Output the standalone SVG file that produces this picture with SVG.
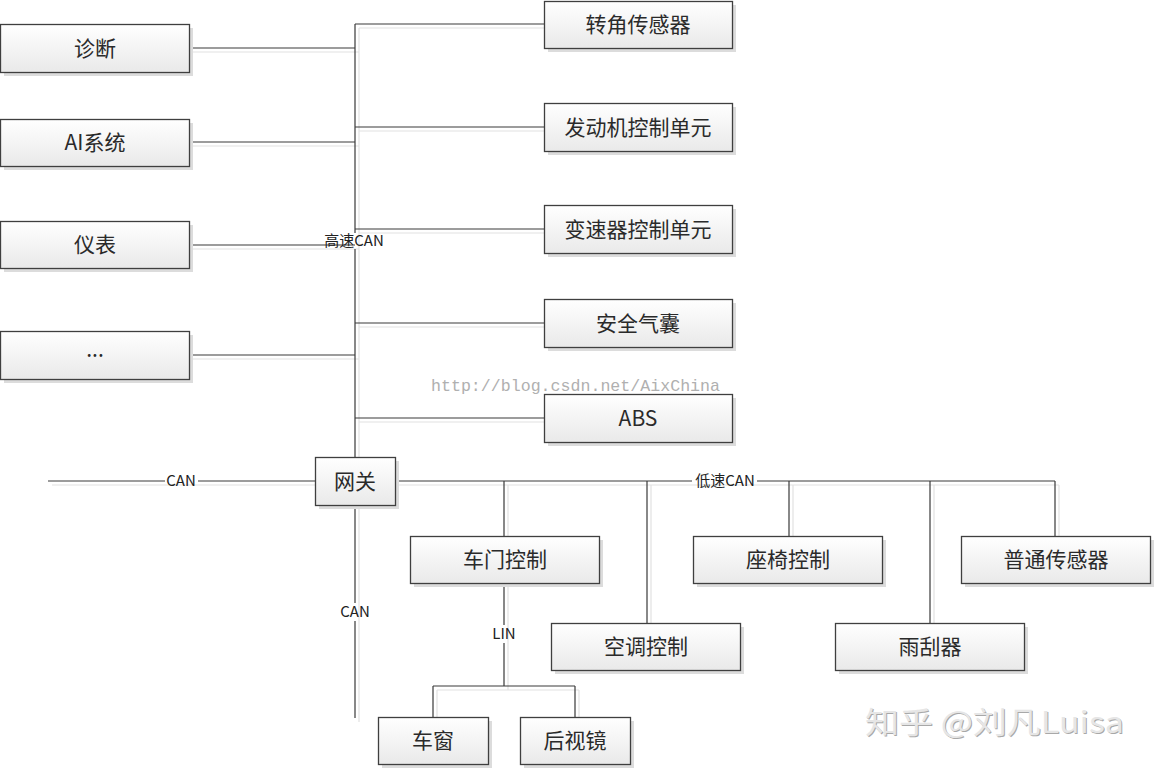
<svg xmlns="http://www.w3.org/2000/svg" width="1155" height="770" viewBox="0 0 1155 770">
<defs>
<linearGradient id="g" x1="0" y1="0" x2="0" y2="1">
<stop offset="0" stop-color="#ffffff"/>
<stop offset="1" stop-color="#e9e9e9"/>
</linearGradient>
</defs>
<style>
.ln{stroke:#3a3a3a;stroke-width:1.2;fill:none}
.sh{stroke:#e2e2e2;stroke-width:1.2;fill:none}
.bs{fill:#dcdcdc}
.bx{fill:url(#g);stroke:#3f3f3f;stroke-width:1.3}
.t{font-family:"Noto Sans CJK SC","Liberation Sans",sans-serif;font-size:21px;fill:#2a2a2a;text-anchor:middle}
.lb{font-family:"Noto Sans CJK SC","Liberation Sans",sans-serif;font-size:15px;fill:#222;text-anchor:middle}
</style>
<rect width="1155" height="770" fill="#fff"/>
<g id="connectors">
<g transform="translate(4,4)" class="sh">
<path d="M355 24V718M189 48H355M189 142H355M189 245H355M189 355H355M355 24H544M355 127H544M355 229H544M355 323H544M355 418H544M48 481H315M395 481H1055M504 481V536M647 481V623M789 481V536M930 481V623M1055 481V536M504 583V686M433 686H575M433 686V717M575 686V717"/>
</g>
<g class="ln">
<path d="M355 24V233M355 249V457M355 505V603M355 621V718"/>
<path d="M189 48H355M189 142H355M189 245H355M189 355H355"/>
<path d="M355 24H544M355 127H544M355 229H544M355 323H544M355 418H544"/>
<path d="M48 481H165M198 481H315"/>
<path d="M395 481H692M757 481H1055"/>
<path d="M504 481V536M647 481V623M789 481V536M930 481V623M1055 481V536"/>
<path d="M504 583V625M504 643V686M433 686H575M433 686V717M575 686V717"/>
</g>
<text class="lb" x="354" y="246">高速CAN</text>
<text class="lb" x="181" y="486">CAN</text>
<text class="lb" x="725" y="486">低速CAN</text>
<text class="lb" x="355" y="617">CAN</text>
<text class="lb" x="504" y="639">LIN</text>
</g>
<g id="n-zhenduan"><rect class="bs" x="4" y="28" width="189" height="48"/><rect class="bx" x="0.5" y="24.5" width="189" height="48"/><text class="t" x="95" y="56">诊断</text></g>
<g id="n-ai"><rect class="bs" x="4" y="123" width="189" height="47"/><rect class="bx" x="0.5" y="119.5" width="189" height="47"/><text class="t" x="95" y="150">AI系统</text></g>
<g id="n-yibiao"><rect class="bs" x="4" y="225" width="189" height="47"/><rect class="bx" x="0.5" y="221.5" width="189" height="47"/><text class="t" x="95" y="252">仪表</text></g>
<g id="n-more"><rect class="bs" x="4" y="335" width="189" height="48"/><rect class="bx" x="0.5" y="331.5" width="189" height="48"/><text class="t" x="95" y="357">...</text></g>
<g id="n-zhuanjiao"><rect class="bs" x="548" y="5" width="188" height="47"/><rect class="bx" x="544.5" y="1.5" width="188" height="47"/><text class="t" x="638" y="32">转角传感器</text></g>
<g id="n-fadongji"><rect class="bs" x="548" y="107" width="188" height="48"/><rect class="bx" x="544.5" y="103.5" width="188" height="48"/><text class="t" x="638" y="135">发动机控制单元</text></g>
<g id="n-biansuqi"><rect class="bs" x="548" y="209" width="188" height="48"/><rect class="bx" x="544.5" y="205.5" width="188" height="48"/><text class="t" x="638" y="237">变速器控制单元</text></g>
<g id="n-anquan"><rect class="bs" x="548" y="303" width="188" height="48"/><rect class="bx" x="544.5" y="299.5" width="188" height="48"/><text class="t" x="638" y="331">安全气囊</text></g>
<g id="n-abs"><rect class="bs" x="548" y="398" width="188" height="48"/><rect class="bx" x="544.5" y="394.5" width="188" height="48"/><text class="t" x="638" y="426">ABS</text></g>
<g id="n-wangguan"><rect class="bs" x="319" y="461" width="80" height="48"/><rect class="bx" x="315.5" y="457.5" width="80" height="48"/><text class="t" x="355" y="489">网关</text></g>
<g id="n-chemen"><rect class="bs" x="414" y="540" width="189" height="47"/><rect class="bx" x="410.5" y="536.5" width="189" height="47"/><text class="t" x="505" y="567">车门控制</text></g>
<g id="n-kongtiao"><rect class="bs" x="555" y="627" width="189" height="47"/><rect class="bx" x="551.5" y="623.5" width="189" height="47"/><text class="t" x="646" y="654">空调控制</text></g>
<g id="n-zuoyi"><rect class="bs" x="697" y="540" width="189" height="47"/><rect class="bx" x="693.5" y="536.5" width="189" height="47"/><text class="t" x="788" y="567">座椅控制</text></g>
<g id="n-yugua"><rect class="bs" x="839" y="627" width="189" height="47"/><rect class="bx" x="835.5" y="623.5" width="189" height="47"/><text class="t" x="930" y="654">雨刮器</text></g>
<g id="n-putong"><rect class="bs" x="965" y="540" width="189" height="47"/><rect class="bx" x="961.5" y="536.5" width="189" height="47"/><text class="t" x="1056" y="567">普通传感器</text></g>
<g id="n-chechuang"><rect class="bs" x="382" y="721" width="110" height="47"/><rect class="bx" x="378.5" y="717.5" width="110" height="47"/><text class="t" x="433" y="748">车窗</text></g>
<g id="n-houshijing"><rect class="bs" x="524" y="721" width="110" height="47"/><rect class="bx" x="520.5" y="717.5" width="110" height="47"/><text class="t" x="575" y="748">后视镜</text></g>
<text x="431" y="391" font-family="Liberation Mono,monospace" font-size="17" fill="#b0b0b0" textLength="289" lengthAdjust="spacingAndGlyphs">http://blog.csdn.net/AixChina</text>
<g font-family="Noto Sans CJK SC,sans-serif" font-size="30">
<text x="866" y="734" fill="#a8a8a8" textLength="259" lengthAdjust="spacingAndGlyphs">知乎 @刘凡Luisa</text>
<text x="865" y="733" fill="#e6e6e6" textLength="259" lengthAdjust="spacingAndGlyphs">知乎 @刘凡Luisa</text>
</g>
</svg>
